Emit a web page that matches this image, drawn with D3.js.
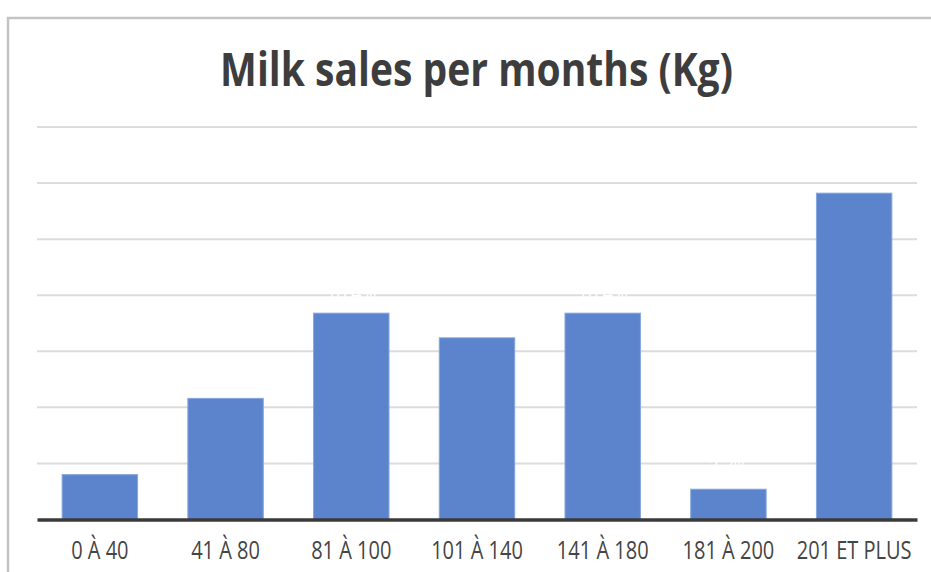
<!DOCTYPE html>
<html>
<head>
<meta charset="utf-8">
<script src="https://cdn.jsdelivr.net/npm/d3@7/dist/d3.min.js"></script>
<style>
  html, body { margin: 0; padding: 0; background: #ffffff; }
  svg { display: block; }
</style>
</head>
<body>
<svg id="chart" width="931" height="572"></svg>
<script>
// Monthly milk sales, by class of quantity sold (Kg)
const categories = ["0 À 40", "41 À 80", "81 À 100", "101 À 140", "141 À 180", "181 À 200", "201 ET PLUS"];
const shares = [4.0, 10.8, 18.4, 16.2, 18.4, 2.7, 29.1];
const gridTicks = [5, 10, 15, 20, 25, 30, 35];
const titleText = "Milk sales per months (Kg)";

const W = 931, H = 572;
const margin = { left: 37, right: 14, top: 127, bottom: 52.5 };

const svg = d3.select("#chart");

// chart frame (left and top edges only)
svg.append("path")
  .attr("d", `M8,${H} V18 H${W}`)
  .attr("fill", "none")
  .attr("stroke", "#c4c4c4")
  .attr("stroke-width", 2.5);

const x = d3.scaleBand()
  .domain(categories)
  .range([margin.left, W - margin.right])
  .paddingInner(0.4)
  .paddingOuter(0.2);

const y = d3.scaleLinear()
  .domain([0, 35])
  .range([H - margin.bottom, margin.top]);

// horizontal gridlines
svg.append("g")
  .selectAll("line")
  .data(gridTicks)
  .join("line")
  .attr("x1", margin.left)
  .attr("x2", W - margin.right)
  .attr("y1", d => y(d))
  .attr("y2", d => y(d))
  .attr("stroke", "#dcdcdc")
  .attr("stroke-width", 2);

// value labels (white on white, only visible where they cut the gridlines)
const fmt = d3.format(".1f");
svg.append("g")
  .selectAll("text")
  .data(categories)
  .join("text")
  .attr("transform", (c, i) => `translate(${x(c) + x.bandwidth() / 2},${y(shares[i]) - 13.5}) scale(0.85,1)`)
  .attr("text-anchor", "middle")
  .attr("font-family", "'Open Sans', sans-serif")
  .attr("font-size", 21)
  .attr("fill", "#ffffff")
  .text((c, i) => fmt(shares[i]) + "%");

// bars
svg.append("g")
  .selectAll("rect")
  .data(categories)
  .join("rect")
  .attr("x", c => x(c))
  .attr("width", x.bandwidth())
  .attr("y", (c, i) => y(shares[i]))
  .attr("height", (c, i) => y(0) - y(shares[i]))
  .attr("fill", "#5b84cd")
  .attr("stroke", "#86a6de")
  .attr("stroke-width", 1);

// baseline axis
const xAxis = d3.axisBottom(x).tickSize(0).tickPadding(0);
const axisG = svg.append("g")
  .attr("transform", `translate(0,${y(0)})`)
  .call(xAxis);
axisG.select(".domain")
  .attr("stroke", "#3a3a3a")
  .attr("stroke-width", 3.5);
axisG.selectAll(".tick text").remove();

// category labels, narrow tall lettering
const labelG = svg.append("g");
const labels = labelG.selectAll("text")
  .data(categories)
  .join("text")
  .attr("text-anchor", "middle")
  .attr("font-family", "'Open Sans', sans-serif")
  .attr("font-size", 26)
  .attr("fill", "#454545")
  .text(d => d);
let maxLen = 0;
labels.each(function () { maxLen = Math.max(maxLen, this.getComputedTextLength()); });
const labelScale = 115 / maxLen;
labels.attr("transform", d => `translate(${x(d) + x.bandwidth() / 2},${559}) scale(${labelScale},1)`);

// title
const title = svg.append("text")
  .attr("text-anchor", "middle")
  .attr("font-family", "'Open Sans', sans-serif")
  .attr("font-weight", 700)
  .attr("font-size", 47)
  .attr("fill", "#3d3d3d")
  .text(titleText);
const tLen = title.node().getComputedTextLength();
title.attr("transform", `translate(476.5,86) scale(${513 / tLen},1)`);
</script>
</body>
</html>
